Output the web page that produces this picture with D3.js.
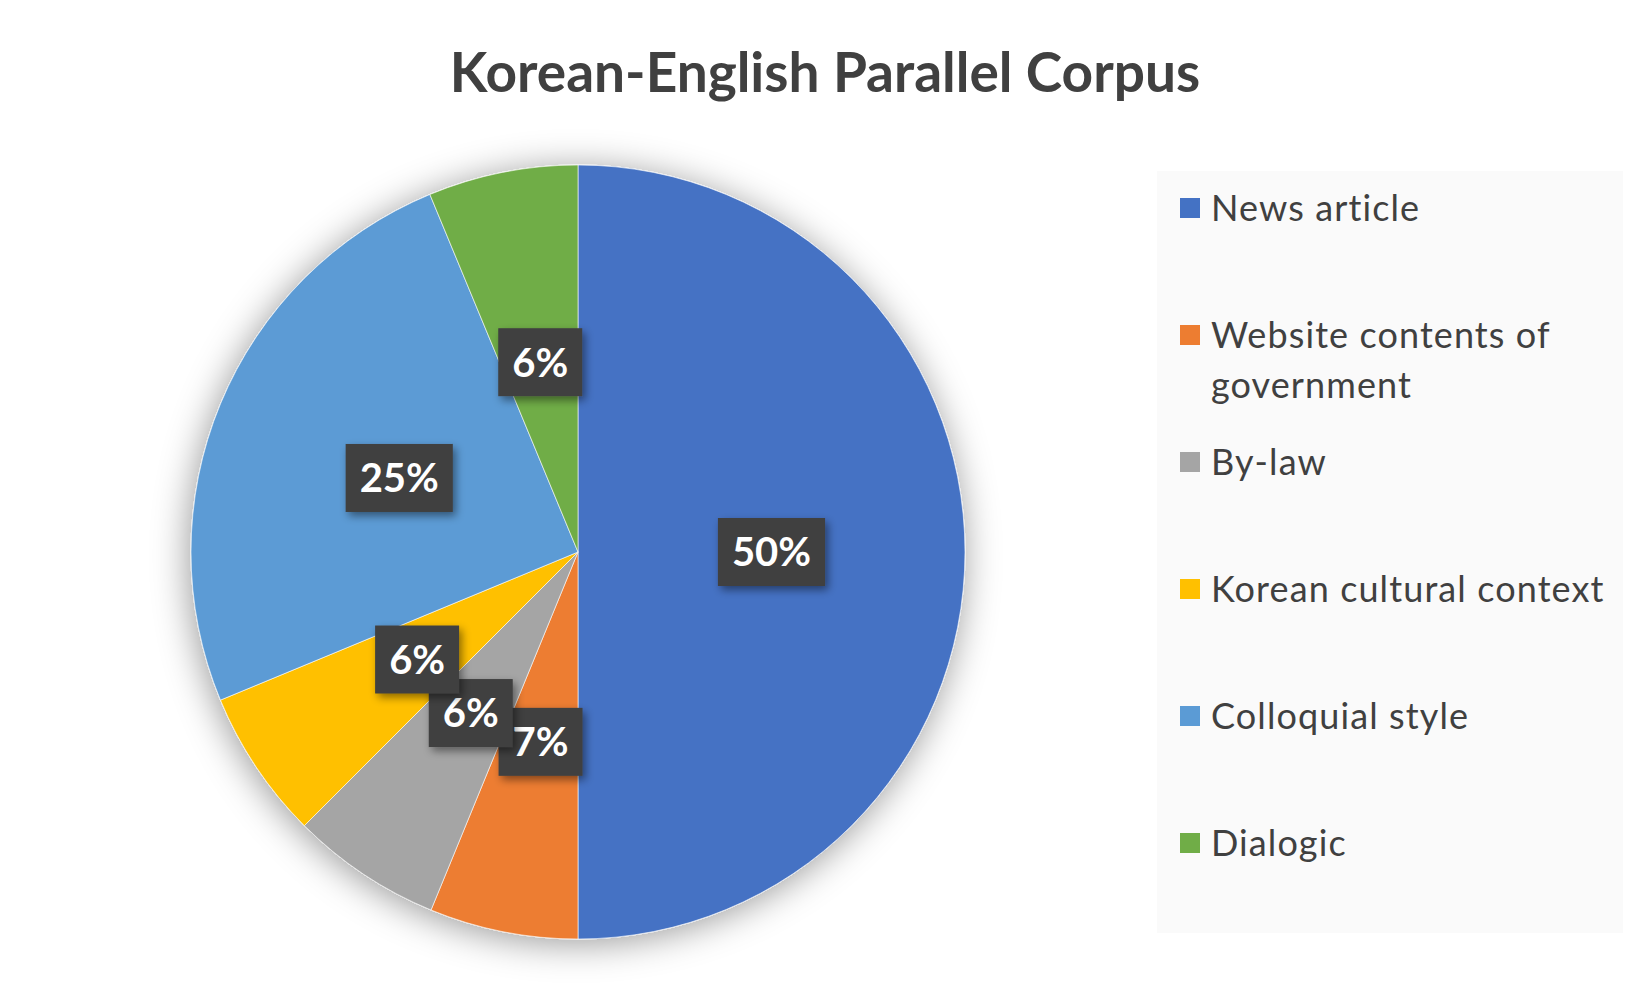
<!DOCTYPE html>
<html>
<head>
<meta charset="utf-8">
<script src="https://cdn.jsdelivr.net/npm/d3@7"></script>
<style>
  body { margin: 0; background: #fff; }
  svg { display: block; font-family: Lato, "Open Sans", sans-serif; }
</style>
</head>
<body>
<svg id="chart"></svg>
<script>
// slices, clockwise from 12 o'clock
const categories = ['News article', 'Website contents of government', 'By-law',
  'Korean cultural context', 'Colloquial style', 'Dialogic'];
const values = [50, 6.2, 6.3, 6.25, 25, 6.25];
// data labels as printed on the chart
const pctLabels = ['50%', '7%', '6%', '6%', '25%', '6%'];
const colors = ['#4472C4', '#ED7D31', '#A5A5A5', '#FFC000', '#5B9BD5', '#70AD47'];
// legend text, wrapped the same way as the reference
const legendLines = [['News article'], ['Website contents of', 'government'], ['By-law'],
  ['Korean cultural context'], ['Colloquial style'], ['Dialogic']];

const width = 1650;
const height = 990;

const svg = d3.select('#chart')
  .attr('width', width)
  .attr('height', height);

const defs = svg.append('defs');

defs.append('filter')
  .attr('id', 'pieShadow')
  .attr('x', '-25%').attr('y', '-25%')
  .attr('width', '150%').attr('height', '150%')
  .append('feDropShadow')
  .attr('dx', -2).attr('dy', 4)
  .attr('stdDeviation', 18)
  .attr('flood-color', '#000')
  .attr('flood-opacity', 0.4);

defs.append('filter')
  .attr('id', 'boxShadow')
  .attr('x', '-30%').attr('y', '-30%')
  .attr('width', '160%').attr('height', '160%')
  .append('feDropShadow')
  .attr('dx', 3).attr('dy', 4)
  .attr('stdDeviation', 4)
  .attr('flood-color', '#000')
  .attr('flood-opacity', 0.45);

// title
svg.append('text')
  .attr('x', 825)
  .attr('y', 92)
  .attr('text-anchor', 'middle')
  .attr('fill', '#404040')
  .attr('font-weight', 700)
  .attr('font-size', 55)
  .text('Korean-English Parallel Corpus');

// pie
const cx = 578, cy = 552, radius = 387;

const pie = d3.pie().sort(null).value(d => d.value);
const arc = d3.arc().innerRadius(0).outerRadius(radius);

const data = categories.map((c, i) => ({
  name: c, value: values[i], color: colors[i], label: pctLabels[i]
}));
const arcs = pie(data);

const pieG = svg.append('g')
  .attr('transform', `translate(${cx},${cy})`);

pieG.append('g')
  .attr('filter', 'url(#pieShadow)')
  .selectAll('path')
  .data(arcs)
  .join('path')
  .attr('d', arc)
  .attr('fill', d => d.data.color)
  .attr('stroke', '#fff')
  .attr('stroke-opacity', 0.6)
  .attr('stroke-width', 1);

// data labels
const labelG = pieG.selectAll('g.lbl')
  .data(arcs)
  .join('g')
  .attr('class', 'lbl')
  .attr('transform', d => {
    const c = arc.centroid(d);
    return `translate(${c[0]},${c[1]})`;
  });

labelG.each(function (d) {
  const g = d3.select(this);
  const t = g.append('text')
    .attr('text-anchor', 'middle')
    .attr('dy', '0.36em')
    .attr('fill', '#fff')
    .attr('font-weight', 700)
    .attr('font-size', 40)
    .text(d.data.label);
  const w = t.node().getComputedTextLength() + 28;
  g.insert('rect', 'text')
    .attr('x', -w / 2)
    .attr('y', -34)
    .attr('width', w)
    .attr('height', 68)
    .attr('fill', '#404040')
    .attr('filter', 'url(#boxShadow)');
});

// legend
const legend = svg.append('g');

legend.append('rect')
  .attr('x', 1157)
  .attr('y', 171)
  .attr('width', 466)
  .attr('height', 762)
  .attr('fill', '#FAFAFA');

const items = legend.selectAll('g.item')
  .data(data)
  .join('g')
  .attr('class', 'item')
  .attr('transform', (d, i) => `translate(1180,${208 + i * 127})`);

items.append('rect')
  .attr('x', 0)
  .attr('y', -10)
  .attr('width', 20)
  .attr('height', 20)
  .attr('fill', d => d.color);

items.append('text')
  .attr('x', 31)
  .attr('fill', '#404040')
  .attr('font-size', 36)
  .attr('letter-spacing', 1.1)
  .each(function (d, i) {
    const t = d3.select(this);
    legendLines[i].forEach((line, j) => {
      t.append('tspan')
        .attr('x', 31)
        .attr('y', j * 50)
        .attr('dy', '0.35em')
        .text(line);
    });
  });
</script>
</body>
</html>
